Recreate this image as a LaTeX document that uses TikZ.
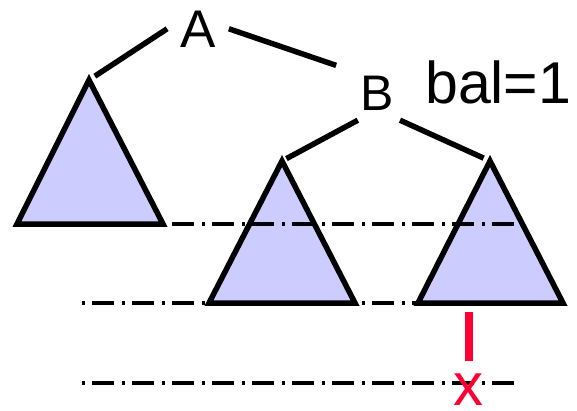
\documentclass[tikz,border=0pt]{standalone}
\usepackage{fontspec}
\setmainfont{Liberation Sans}
\usepackage{xcolor}
\definecolor{subtreeBlue}{HTML}{CCCCFF}
\definecolor{insertRed}{HTML}{FF0033}
\usepackage{tikz}

\begin{document}
\begin{tikzpicture}[
		x=1pt, y=-1pt,
		every node/.style={
			inner xsep=13pt,
			inner ysep=10pt
		},
		edge/.style={line width=5.5pt},
		subtree/.style={draw, fill=subtreeBlue, line width=5.5pt},
		level/.style={line width=3.2pt, dash pattern=on 3pt off 7pt on 22pt off 8pt}
		]
		\useasboundingbox (0,0) rectangle (577,410);
		
		% subtrees
		\coordinate (tl) at (89,80);
		\coordinate (tm) at (282,161);
		\coordinate (tr) at (490,161);
		\draw[subtree] (tl) -- (17,224) -- (163,224) -- cycle;
		\draw[subtree] (tm) -- (209,303) -- (355,303) -- cycle;
		\draw[subtree] (tr) -- (418,303) -- (563,303) -- cycle;
		
		% height levels
		\draw[level] (162,224) -- (514,224);
		\draw[level] (82,303) -- (418,303);
		\draw[level] (82,383) -- (514,383);
		
		\node[anchor=base, font=\fontsize{53}{60}\selectfont] (A) at (198,47) {A};
		\node[anchor=base, inner xsep=24pt, font=\fontsize{50}{56}\selectfont] (B) at (377,110) {B};
		\node[anchor=base west, inner sep=0pt, font=\fontsize{59}{66}\selectfont] (bal) at (425,103) {bal=1};
		
		\draw[edge, shorten >=7pt] (A.west) -- (tl);
		\draw[edge] (A.east) -- (B.north west);
		\draw[edge, shorten >=5pt] (B.235) -- (tm);
		\draw[edge, shorten >=7pt] (B.310) -- (tr);
		
		% inserted node
		\fill[insertRed] (465,312) rectangle (473,361);
		\node[anchor=base, inner sep=0pt, text=insertRed, font=\fontsize{60}{66}\selectfont] (x) at (468,405) {x};
		
	\end{tikzpicture}
\end{document}
